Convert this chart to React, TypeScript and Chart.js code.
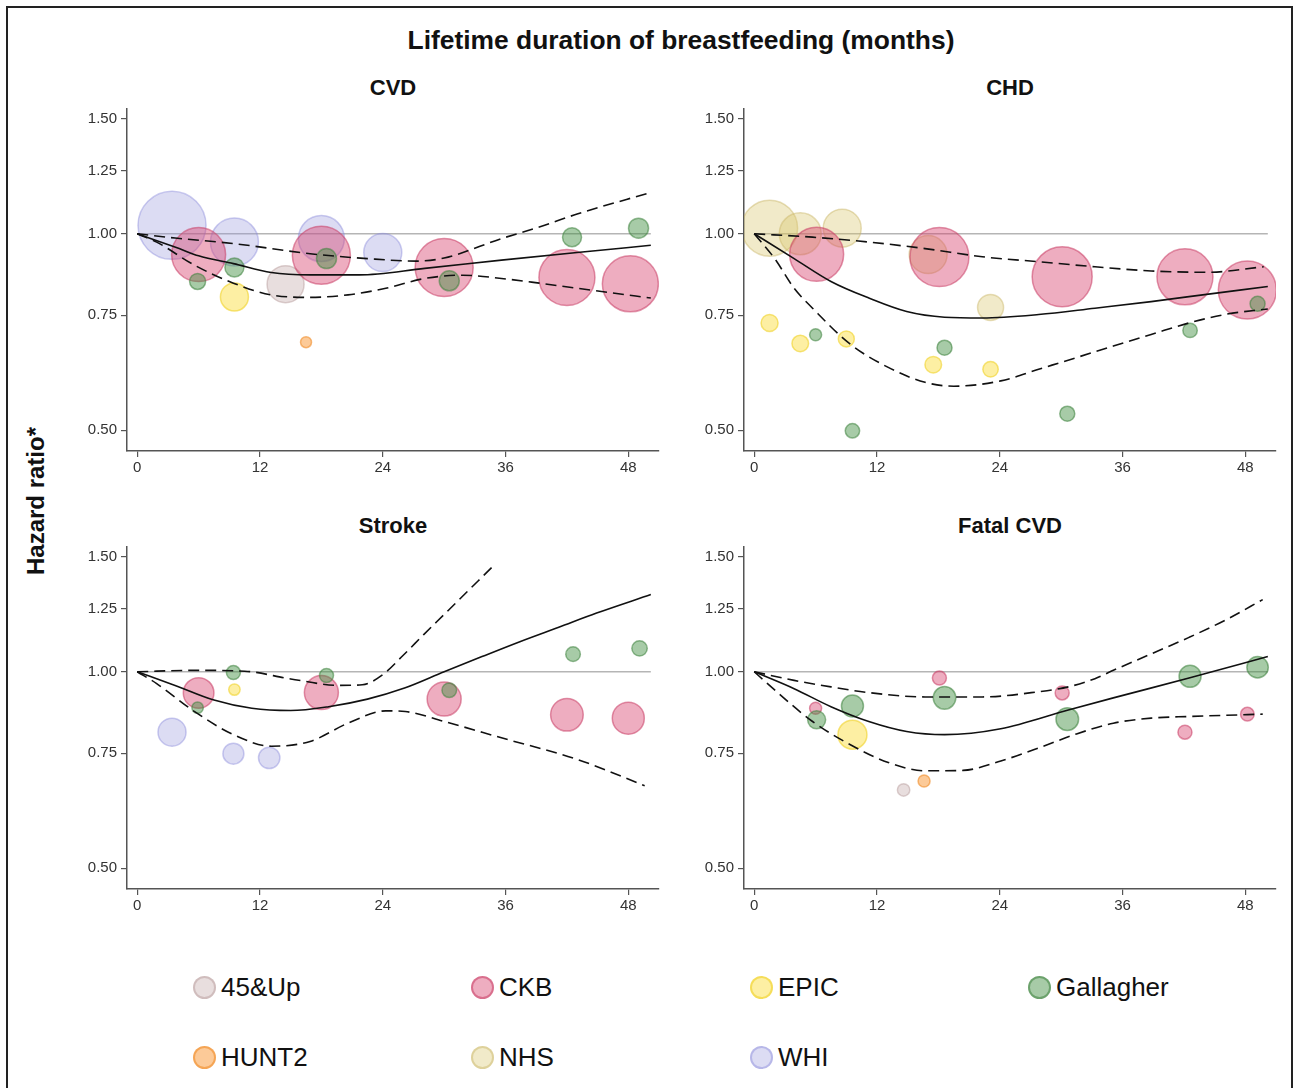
import React, { useEffect, useRef } from "react";
import { Chart, registerables } from "chart.js";

Chart.register(...registerables);

// ---------- data ----------
const STUDIES = ["45&Up", "CKB", "EPIC", "Gallagher", "HUNT2", "NHS", "WHI"];
const STUDY_FILL = [
  "rgba(190,160,160,0.35)",
  "rgba(214,60,104,0.42)",
  "rgba(250,220,50,0.45)",
  "rgba(60,140,60,0.45)",
  "rgba(250,150,50,0.5)",
  "rgba(215,195,100,0.35)",
  "rgba(150,150,220,0.33)",
];
const STUDY_BORDER = [
  "rgba(180,150,150,0.45)",
  "rgba(200,60,100,0.55)",
  "rgba(240,210,40,0.6)",
  "rgba(60,130,60,0.55)",
  "rgba(240,140,40,0.6)",
  "rgba(200,180,100,0.45)",
  "rgba(140,140,220,0.45)",
];
// drawing layer: lower = on top
const STUDY_LAYER = [5, 4, 3, 1, 2, 6, 7];

const X_TICKS = [0, 12, 24, 36, 48];
const Y_TICKS = [0.5, 0.75, 1, 1.25, 1.5];
const PANEL_TITLES = ["CVD", "CHD", "Stroke", "Fatal CVD"];
const REF_LINE: [number, number][] = [[0, 1], [50.2, 1]];

// bubbles: [study, months, hazard ratio, bubble radius]
const CVD_BUBBLES: [string, number, number, number][] = [
  ["WHI", 3.4, 1.03, 34], ["WHI", 9.5, 0.971, 24], ["WHI", 18.0, 0.983, 23], ["WHI", 24.0, 0.936, 19],
  ["CKB", 6.0, 0.929, 27], ["CKB", 18.0, 0.927, 29], ["CKB", 30.0, 0.888, 29], ["CKB", 42.0, 0.857, 28], ["CKB", 48.2, 0.838, 28],
  ["Gallagher", 5.9, 0.845, 8], ["Gallagher", 9.5, 0.888, 9.5], ["Gallagher", 18.5, 0.916, 10],
  ["Gallagher", 30.5, 0.847, 10], ["Gallagher", 42.5, 0.988, 9.5], ["Gallagher", 49.0, 1.02, 10],
  ["EPIC", 9.5, 0.8, 14],
  ["45&Up", 14.5, 0.837, 18.5],
  ["HUNT2", 16.5, 0.682, 5.5],
];
const CHD_BUBBLES: [string, number, number, number][] = [
  ["NHS", 1.5, 1.02, 28], ["NHS", 4.5, 1.0, 21], ["NHS", 8.6, 1.02, 19], ["NHS", 17.0, 0.929, 19], ["NHS", 23.1, 0.771, 13],
  ["CKB", 6.1, 0.93, 27], ["CKB", 18.1, 0.921, 29.5], ["CKB", 30.1, 0.859, 30], ["CKB", 42.1, 0.859, 28], ["CKB", 48.2, 0.82, 29],
  ["EPIC", 1.5, 0.73, 8.5], ["EPIC", 4.5, 0.679, 8.3], ["EPIC", 9.0, 0.69, 8], ["EPIC", 17.5, 0.63, 8.3], ["EPIC", 23.1, 0.62, 7.7],
  ["Gallagher", 6.0, 0.7, 6], ["Gallagher", 18.6, 0.669, 7.5], ["Gallagher", 9.6, 0.499, 7.2],
  ["Gallagher", 30.6, 0.53, 7.5], ["Gallagher", 42.6, 0.711, 7.2], ["Gallagher", 49.2, 0.781, 7.5],
];
const STROKE_BUBBLES: [string, number, number, number][] = [
  ["WHI", 3.4, 0.808, 14], ["WHI", 9.4, 0.749, 10.5], ["WHI", 12.9, 0.738, 10.7],
  ["CKB", 6.0, 0.928, 15.3], ["CKB", 18.0, 0.929, 17], ["CKB", 30.0, 0.908, 17], ["CKB", 42.0, 0.859, 16.3], ["CKB", 48.0, 0.849, 16],
  ["Gallagher", 5.9, 0.881, 5.7], ["Gallagher", 9.4, 0.997, 7], ["Gallagher", 18.5, 0.987, 7],
  ["Gallagher", 30.5, 0.937, 7.3], ["Gallagher", 42.6, 1.064, 7.3], ["Gallagher", 49.1, 1.086, 7.7],
  ["EPIC", 9.5, 0.939, 5.7],
];
const FATAL_BUBBLES: [string, number, number, number][] = [
  ["CKB", 6.0, 0.879, 6], ["CKB", 18.1, 0.978, 7], ["CKB", 30.1, 0.928, 7], ["CKB", 42.1, 0.808, 7], ["CKB", 48.2, 0.861, 6.8],
  ["Gallagher", 6.1, 0.844, 9], ["Gallagher", 9.6, 0.886, 11], ["Gallagher", 18.6, 0.912, 11.3],
  ["Gallagher", 30.6, 0.846, 11.3], ["Gallagher", 42.6, 0.984, 11], ["Gallagher", 49.2, 1.016, 10.7],
  ["EPIC", 9.6, 0.801, 14.5],
  ["45&Up", 14.6, 0.659, 6.2],
  ["HUNT2", 16.6, 0.68, 6],
];

// fitted curve and 95% CI: [months, hazard ratio]
const CVD_FIT: [number, number][] = [[0, 1], [4.1, 0.949], [6.0, 0.925], [9.4, 0.9], [13.1, 0.872], [16.9, 0.865], [21.7, 0.865], [28.1, 0.885], [35.6, 0.911], [43.0, 0.936], [50.2, 0.96]];
const CVD_UPPER: [number, number][] = [[0, 1], [3.7, 0.985], [9.4, 0.966], [16.9, 0.932], [22.5, 0.916], [27.3, 0.908], [30.0, 0.918], [35.6, 0.983], [39.3, 1.024], [43.0, 1.072], [50.2, 1.157]];
const CVD_LOWER: [number, number][] = [[0, 1], [1.9, 0.971], [5.6, 0.895], [9.4, 0.84], [13.1, 0.806], [16.9, 0.799], [20.6, 0.806], [24.3, 0.825], [28.1, 0.854], [31.8, 0.864], [35.6, 0.854], [39.3, 0.84], [43.0, 0.825], [50.2, 0.797]];

const CHD_FIT: [number, number][] = [[0, 1], [3.9, 0.916], [7.5, 0.845], [11.2, 0.797], [14.9, 0.76], [18.6, 0.745], [22.3, 0.743], [27.8, 0.752], [33.3, 0.769], [38.8, 0.787], [42.5, 0.801], [50.2, 0.83]];
const CHD_UPPER: [number, number][] = [[0, 1], [5.7, 0.988], [11.2, 0.971], [16.7, 0.949], [22.3, 0.922], [27.8, 0.906], [33.3, 0.89], [38.8, 0.877], [44.3, 0.873], [49.8, 0.89]];
const CHD_LOWER: [number, number][] = [[0, 1], [2.0, 0.916], [3.9, 0.825], [5.7, 0.769], [9.4, 0.677], [13.1, 0.624], [16.7, 0.592], [19.5, 0.584], [24.1, 0.595], [27.8, 0.62], [31.5, 0.646], [35.1, 0.673], [38.8, 0.701], [42.5, 0.73], [46.2, 0.753], [50.2, 0.767]];

const STROKE_FIT: [number, number][] = [[0, 1], [3.7, 0.953], [7.5, 0.905], [11.2, 0.879], [15.0, 0.872], [18.7, 0.884], [22.5, 0.908], [26.2, 0.945], [30.0, 1.0], [33.7, 1.055], [37.4, 1.112], [41.2, 1.17], [44.9, 1.23], [50.2, 1.313]];
const STROKE_UPPER: [number, number][] = [[0, 1], [5.6, 1.005], [10.5, 1.002], [15.0, 0.975], [19.8, 0.953], [22.0, 0.955], [24.0, 0.99], [26.0, 1.06], [28.0, 1.14], [30.0, 1.224], [35.0, 1.463]];
const STROKE_LOWER: [number, number][] = [[0, 1], [1.9, 0.959], [5.6, 0.869], [9.4, 0.801], [13.1, 0.769], [16.9, 0.782], [20.6, 0.834], [24.3, 0.871], [26.2, 0.869], [30.0, 0.839], [35.6, 0.792], [43.0, 0.734], [49.6, 0.669]];

const FATAL_FIT: [number, number][] = [[0, 1], [3.9, 0.942], [7.5, 0.884], [11.2, 0.839], [14.9, 0.81], [18.6, 0.801], [24.1, 0.818], [30.7, 0.874], [35.1, 0.912], [42.5, 0.978], [50.2, 1.055]];
const FATAL_UPPER: [number, number][] = [[0, 1], [3.9, 0.97], [7.5, 0.948], [11.2, 0.929], [16.7, 0.915], [22.3, 0.915], [27.8, 0.932], [30.7, 0.948], [33.3, 0.976], [35.1, 1.005], [38.8, 1.065], [42.5, 1.129], [46.2, 1.203], [49.7, 1.29]];
const FATAL_LOWER: [number, number][] = [[0, 1], [1.3, 0.959], [5.7, 0.839], [9.4, 0.773], [13.1, 0.726], [16.7, 0.705], [20.4, 0.706], [24.1, 0.73], [27.8, 0.764], [31.5, 0.803], [35.1, 0.834], [38.8, 0.849], [42.5, 0.854], [49.7, 0.861]];

// ---------- layout ----------
const FONT = "'Liberation Sans', Arial, Helvetica, sans-serif";
const CANVAS_W = 614;
const CANVAS_H = 395;
const PANEL_POS: [number, number][] = [[57, 96], [674, 96], [57, 534], [674, 534]];
const TITLE_POS: [number, number][] = [[393, 88], [1010, 88], [393, 526], [1010, 526]];
const LEGEND_X = [204, 482, 761, 1039];
const LEGEND_Y = [987, 1057];

const PANELS = [
  { bubbles: CVD_BUBBLES, fit: CVD_FIT, upper: CVD_UPPER, lower: CVD_LOWER },
  { bubbles: CHD_BUBBLES, fit: CHD_FIT, upper: CHD_UPPER, lower: CHD_LOWER },
  { bubbles: STROKE_BUBBLES, fit: STROKE_FIT, upper: STROKE_UPPER, lower: STROKE_LOWER },
  { bubbles: FATAL_BUBBLES, fit: FATAL_FIT, upper: FATAL_UPPER, lower: FATAL_LOWER },
];

const toXY = (arr: [number, number][]) => arr.map(([x, y]) => ({ x, y }));

function Panel({ idx }: { idx: number }) {
  const ref = useRef<HTMLCanvasElement>(null);
  useEffect(() => {
    const spec = PANELS[idx];
    const datasets: any[] = [];
    datasets.push({
      type: "line",
      data: toXY(REF_LINE),
      borderColor: "#b5b5b5",
      borderWidth: 1.5,
      pointRadius: 0,
      order: 20,
    });
    STUDIES.forEach((s, i) => {
      const pts = spec.bubbles.filter((b) => b[0] === s);
      if (!pts.length) return;
      datasets.push({
        type: "bubble",
        label: s,
        data: pts.map((b) => ({ x: b[1], y: b[2], r: b[3] })),
        backgroundColor: STUDY_FILL[i],
        borderColor: STUDY_BORDER[i],
        borderWidth: 1.5,
        hoverRadius: 0,
        order: STUDY_LAYER[i],
      });
    });
    const lineDs = (arr: [number, number][], dashed: boolean) => ({
      type: "line",
      data: toXY(arr),
      borderColor: "#111",
      borderWidth: 1.6,
      borderDash: dashed ? [11, 6] : [],
      pointRadius: 0,
      pointHoverRadius: 0,
      cubicInterpolationMode: "monotone",
      fill: false,
      order: 0,
      clip: 10,
    });
    datasets.push(lineDs(spec.fit, false));
    datasets.push(lineDs(spec.upper, true));
    datasets.push(lineDs(spec.lower, true));

    const tickFont = { family: FONT, size: 15 };
    const chart = new Chart(ref.current!, {
      type: "bubble",
      data: { datasets },
      options: {
        responsive: false,
        animation: false,
        events: [],
        layout: { autoPadding: false, padding: { top: 10, right: 12, bottom: 0, left: 0 } },
        plugins: { legend: { display: false }, tooltip: { enabled: false }, title: { display: false } },
        scales: {
          x: {
            type: "linear",
            min: -1,
            max: 51,
            afterBuildTicks: (s: any) => {
              s.ticks = X_TICKS.map((v) => ({ value: v }));
            },
            afterFit: (s: any) => {
              s.height = 40;
            },
            grid: { display: true, drawOnChartArea: false, drawTicks: true, tickLength: 6, color: "#555", lineWidth: 1.2 },
            border: { display: true, color: "#555", width: 1.5 },
            ticks: {
              color: "#333",
              font: tickFont,
              padding: 2,
              maxRotation: 0,
              autoSkip: false,
              callback: (v: any) => String(v),
            },
          },
          y: {
            type: "logarithmic",
            min: 0.4646,
            max: 1.553,
            afterBuildTicks: (s: any) => {
              s.ticks = Y_TICKS.map((v) => ({ value: v }));
            },
            afterFit: (s: any) => {
              s.width = 70;
            },
            grid: { display: true, drawOnChartArea: false, drawTicks: true, tickLength: 6, color: "#555", lineWidth: 1.2 },
            border: { display: true, color: "#555", width: 1.5 },
            ticks: {
              color: "#333",
              font: tickFont,
              padding: 4,
              autoSkip: false,
              callback: (v: any) => Number(v).toFixed(2),
            },
          },
        },
      } as any,
    });
    return () => chart.destroy();
  }, [idx]);
  const [left, top] = PANEL_POS[idx];
  return (
    <canvas
      ref={ref}
      width={CANVAS_W}
      height={CANVAS_H}
      style={{ position: "absolute", left, top, width: CANVAS_W, height: CANVAS_H }}
    />
  );
}

export default function App() {
  return (
    <div
      style={{
        position: "absolute",
        left: 0,
        top: 0,
        width: 1293,
        height: 1088,
        overflow: "hidden",
        background: "#fff",
        fontFamily: FONT,
        color: "#111",
      }}
    >
      <div
        style={{
          position: "absolute",
          left: 6,
          top: 6,
          width: 1287,
          height: 1200,
          boxSizing: "border-box",
          border: "2px solid #222",
        }}
      />
      <div
        style={{
          position: "absolute",
          left: 681,
          top: 40,
          transform: "translate(-50%, -50%)",
          whiteSpace: "nowrap",
          fontWeight: "bold",
          fontSize: 26.4,
        }}
      >
        Lifetime duration of breastfeeding (months)
      </div>
      <div
        style={{
          position: "absolute",
          left: 36,
          top: 501,
          transform: "translate(-50%, -50%) rotate(-90deg)",
          whiteSpace: "nowrap",
          fontWeight: "bold",
          fontSize: 24,
        }}
      >
        Hazard ratio*
      </div>
      {PANEL_TITLES.map((t, i) => (
        <div
          key={t}
          style={{
            position: "absolute",
            left: TITLE_POS[i][0],
            top: TITLE_POS[i][1],
            transform: "translate(-50%, -50%)",
            whiteSpace: "nowrap",
            fontWeight: "bold",
            fontSize: 22,
          }}
        >
          {t}
        </div>
      ))}
      {PANELS.map((_, i) => (
        <Panel key={i} idx={i} />
      ))}
      {STUDIES.map((s, i) => {
        const cx = LEGEND_X[i % 4];
        const cy = LEGEND_Y[Math.floor(i / 4)];
        return (
          <React.Fragment key={s}>
            <div
              style={{
                position: "absolute",
                left: cx - 11.5,
                top: cy - 11.5,
                width: 23,
                height: 23,
                boxSizing: "border-box",
                borderRadius: "50%",
                background: STUDY_FILL[i],
                border: `2px solid ${STUDY_BORDER[i]}`,
              }}
            />
            <div
              style={{
                position: "absolute",
                left: cx + 17,
                top: cy,
                transform: "translateY(-50%)",
                whiteSpace: "nowrap",
                fontSize: 26,
                lineHeight: "30px",
              }}
            >
              {s}
            </div>
          </React.Fragment>
        );
      })}
    </div>
  );
}
